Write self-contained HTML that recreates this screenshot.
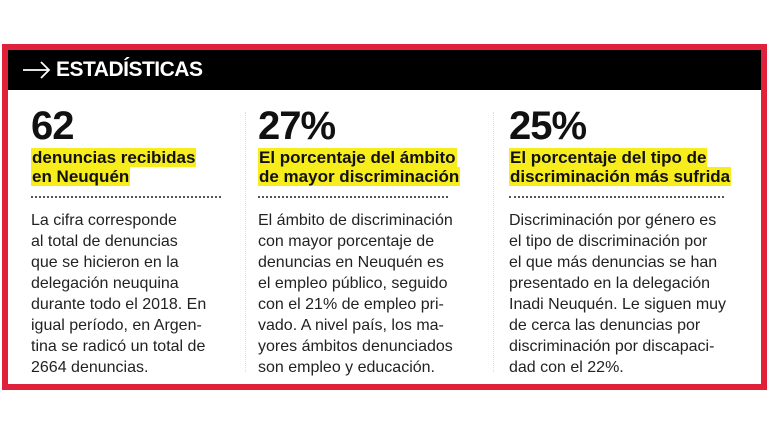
<!DOCTYPE html>
<html><head><meta charset="utf-8"><style>
body{margin:0;width:770px;height:435px;background:#fff;position:relative;overflow:hidden;font-family:"Liberation Sans",sans-serif}
.box{position:absolute;left:2px;top:44px;width:753px;height:334px;border:6px solid #e0213b}
.hdr{position:absolute;left:8px;top:50px;width:753px;height:40px;background:#000;color:#fff;font-weight:bold;font-size:21px;line-height:40px}
.hdr span{position:absolute;left:48px;letter-spacing:-0.5px}
.arr{position:absolute;left:14px;top:10px}
.col{position:absolute;top:106px;width:215px}
.num{font-size:40px;font-weight:900;line-height:40px;letter-spacing:-1px;color:#111}
.hl{font-size:17px;font-weight:bold;line-height:19px;margin-top:2px;color:#111}
.hl b{background:#f7ec1c;padding:0 1px}
.dot{border-top:2px dotted #555;margin-top:10px;width:190px}
.txt{font-size:16px;line-height:21px;margin-top:12px;color:#222}
.vs{position:absolute;top:112px;height:260px;border-left:1px dotted #ddd}
</style></head><body>
<div class="box"></div>
<div class="hdr"><svg class="arr" width="30" height="20" viewBox="0 0 30 20"><path d="M1 10H27M19 2L27 10L19 18" stroke="#fff" stroke-width="1.8" fill="none"/></svg><span>ESTADÍSTICAS</span></div>
<div class="vs" style="left:245px"></div><div class="vs" style="left:493px"></div>
<div class="col" style="left:31px"><div class="num">62</div><div class="hl"><b>denuncias recibidas</b><br><b>en Neuquén</b></div><div class="dot"></div>
<div class="txt">La cifra corresponde<br>al total de denuncias<br>que se hicieron en la<br>delegación neuquina<br>durante todo el 2018. En<br>igual período, en Argen-<br>tina se radicó un total de<br>2664 denuncias.</div></div>
<div class="col" style="left:258px"><div class="num">27%</div><div class="hl"><b>El porcentaje del ámbito</b><br><b>de mayor discriminación</b></div><div class="dot"></div>
<div class="txt">El ámbito de discriminación<br>con mayor porcentaje de<br>denuncias en Neuquén es<br>el empleo público, seguido<br>con el 21% de empleo pri-<br>vado. A nivel país, los ma-<br>yores ámbitos denunciados<br>son empleo y educación.</div></div>
<div class="col" style="left:509px;width:240px"><div class="num">25%</div><div class="hl"><b>El porcentaje del tipo de</b><br><b>discriminación más sufrida</b></div><div class="dot" style="width:215px"></div>
<div class="txt">Discriminación por género es<br>el tipo de discriminación por<br>el que más denuncias se han<br>presentado en la delegación<br>Inadi Neuquén. Le siguen muy<br>de cerca las denuncias por<br>discriminación por discapaci-<br>dad con el 22%.</div></div>
</body></html>
